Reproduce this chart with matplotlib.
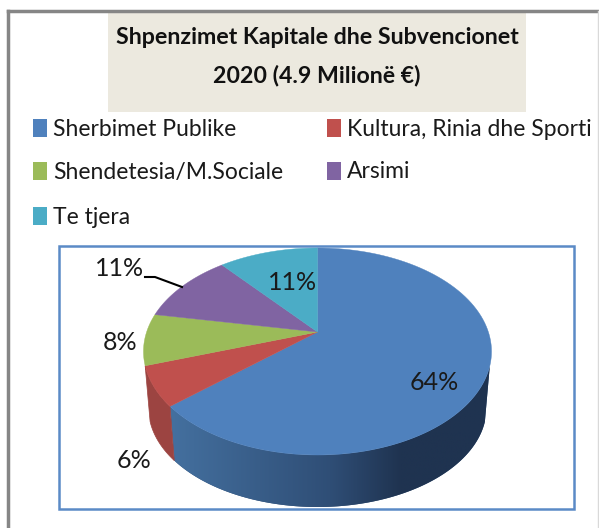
import numpy as np
import matplotlib
matplotlib.use("Agg")
import matplotlib.pyplot as plt
from matplotlib.patches import Rectangle, Polygon
from matplotlib.colors import LinearSegmentedColormap

title_lines = ["Shpenzimet Kapitale dhe Subvencionet", "2020 (4.9 Milionë €)"]
categories = ["Sherbimet Publike", "Kultura, Rinia dhe Sporti", "Shendetesia/M.Sociale", "Arsimi", "Te tjera"]
labels = ["64%", "6%", "8%", "11%", "11%"]
# angular share each slice takes up in the drawn (tilted) ellipse
drawn_shares = [66.1, 6.7, 8.0, 9.95, 9.25]
colors = ["#4f81bd", "#c0504d", "#9bbb59", "#8064a2", "#4bacc6"]
label_pos = [(434, 383), (134, 460), (120, 342), (120, 269), (293, 283)]

plt.rcParams['font.family'] = ['Lato', 'DejaVu Sans']

fig = plt.figure(figsize=(5.99, 5.28), dpi=100)
ax = fig.add_axes([0, 0, 1, 1])
ax.set_xlim(0, 599)
ax.set_ylim(528, 0)
ax.axis("off")

# outer frame, title box
ax.plot([8, 8], [528, 11], color="#868686", lw=2.5)
ax.plot([8, 599], [11, 11], color="#868686", lw=2.5)
ax.plot([598, 598], [11, 528], color="#d9d9d9", lw=1)
ax.add_patch(Rectangle((108, 13), 418, 99, color="#ece9df", lw=0))
ax.text(317, 37, title_lines[0], ha="center", va="center", fontsize=16.7, fontweight="bold", color="#111111")
ax.text(317, 76, title_lines[1], ha="center", va="center", fontsize=16.7, fontweight="bold", color="#111111")

# legend
legend_x = [33, 327, 33, 327, 33]
legend_y = [128, 128, 171, 171, 216]
for name, col, lx, ly in zip(categories, colors, legend_x, legend_y):
    ax.add_patch(Rectangle((lx, ly - 9), 14, 18, color=col, lw=0))
    ax.text(lx + 20, ly + 1, name, ha="left", va="center", fontsize=16.5, color="#1a1a1a")

# plot frame
ax.add_patch(Rectangle((59, 246), 515, 263, fill=False, ec="#5b8ac6", lw=1.8))

# pie geometry
cx, cy, rx, ry = 317.5, 351.5, 174, 103.5
bx, by, brx, bry = 317.5, 408, 169, 99
apex = (317.5, 332)

edges = 90 - 3.6 * np.concatenate([[0], np.cumsum(drawn_shares)])


def top_pts(t):
    return cx + rx * np.cos(np.radians(t)), cy - ry * np.sin(np.radians(t))


def bottom_pts(t):
    return bx + brx * np.cos(np.radians(t)), by - bry * np.sin(np.radians(t))


def side_poly(t0, t1):
    ts = np.linspace(t0, t1, 120)
    xt, yt = top_pts(ts)
    xb, yb = bottom_pts(ts[::-1])
    return np.column_stack([np.r_[xt, xb], np.r_[yt, yb]])


# blue side with a left-to-right shading
shade = LinearSegmentedColormap.from_list("side", [(0, "#44709f"), (0.5, "#2f4e76"), (0.72, "#1f3350"), (1, "#1f3350")])
blue_side = Polygon(side_poly(-8, edges[1]), closed=True, fc="#2f4e76", ec="none", zorder=1)
ax.add_patch(blue_side)
im = ax.imshow(np.linspace(0, 1, 256).reshape(1, -1), cmap=shade, extent=(170, 491, 507, 360), aspect="auto", zorder=1.1)
im.set_clip_path(blue_side)
ax.set_xlim(0, 599)
ax.set_ylim(528, 0)

# red side
ax.add_patch(Polygon(side_poly(edges[1], edges[2]), closed=True, fc="#9c4441", ec="#9c4441", lw=0.5, zorder=1.2))

# top face
for i, col in enumerate(colors):
    ts = np.linspace(edges[i], edges[i + 1], 120)
    xs, ys = top_pts(ts)
    ax.add_patch(Polygon(np.column_stack([np.r_[apex[0], xs], np.r_[apex[1], ys]]), closed=True, fc=col, ec=col, lw=0.3, zorder=2))

for lab, (lx, ly) in zip(labels, label_pos):
    ax.text(lx, ly, lab, ha="center", va="center", fontsize=18, color="#1a1a1a", zorder=3)

# leader line for the purple slice
ax.plot([145, 155, 182], [277, 277, 287], color="black", lw=1.5, zorder=3)

fig.savefig("out.png", dpi=100)
